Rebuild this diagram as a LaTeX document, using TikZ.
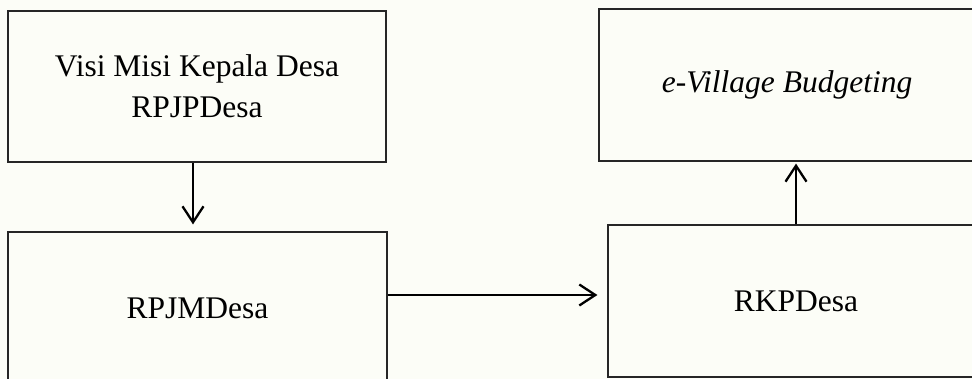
\documentclass[tikz,border=0pt]{standalone}
\usepackage{fontspec}
\setmainfont{Liberation Serif}
\usetikzlibrary{arrows.meta}
\definecolor{bgcol}{HTML}{FCFDF7}
\tikzset{
  boxnode/.style={draw=black!85, line width=1.2pt, rectangle, minimum width=#1, minimum height=152pt, inner sep=0pt, align=center, font=\fontsize{31.5}{41}\selectfont},
  arr/.style={draw=black, line width=2.3pt, -{Straight Barb[length=16pt,width=21pt,line width=2.3pt]}}
}
\begin{document}
\begin{tikzpicture}[x=1pt,y=-1pt]
\clip (0,0) rectangle (972,379);
\fill[bgcol] (0,0) rectangle (972,379);
\node[boxnode=378pt, minimum height=151pt] (b1) at (197,86.5) {Visi Misi Kepala Desa\\RPJPDesa};
\node[boxnode=376pt] (b2) at (787,85) {\itshape e-Village Budgeting};
\node[boxnode=379pt] (b3) at (197.5,308) {RPJMDesa};
\node[boxnode=376pt] (b4) at (796,301) {RKPDesa};
\coordinate (v1) at (193,200);
\coordinate (h1) at (500,295);
\draw[arr, shorten >=7pt] (b1.south -| v1) -- (b3.north -| v1);
\draw[arr, shorten >=10pt] (b3.east |- h1) -- (b4.west |- h1);
\draw[arr, shorten >=2pt] (b4.north) -- (b2.south -| b4.north);
\end{tikzpicture}
\end{document}
